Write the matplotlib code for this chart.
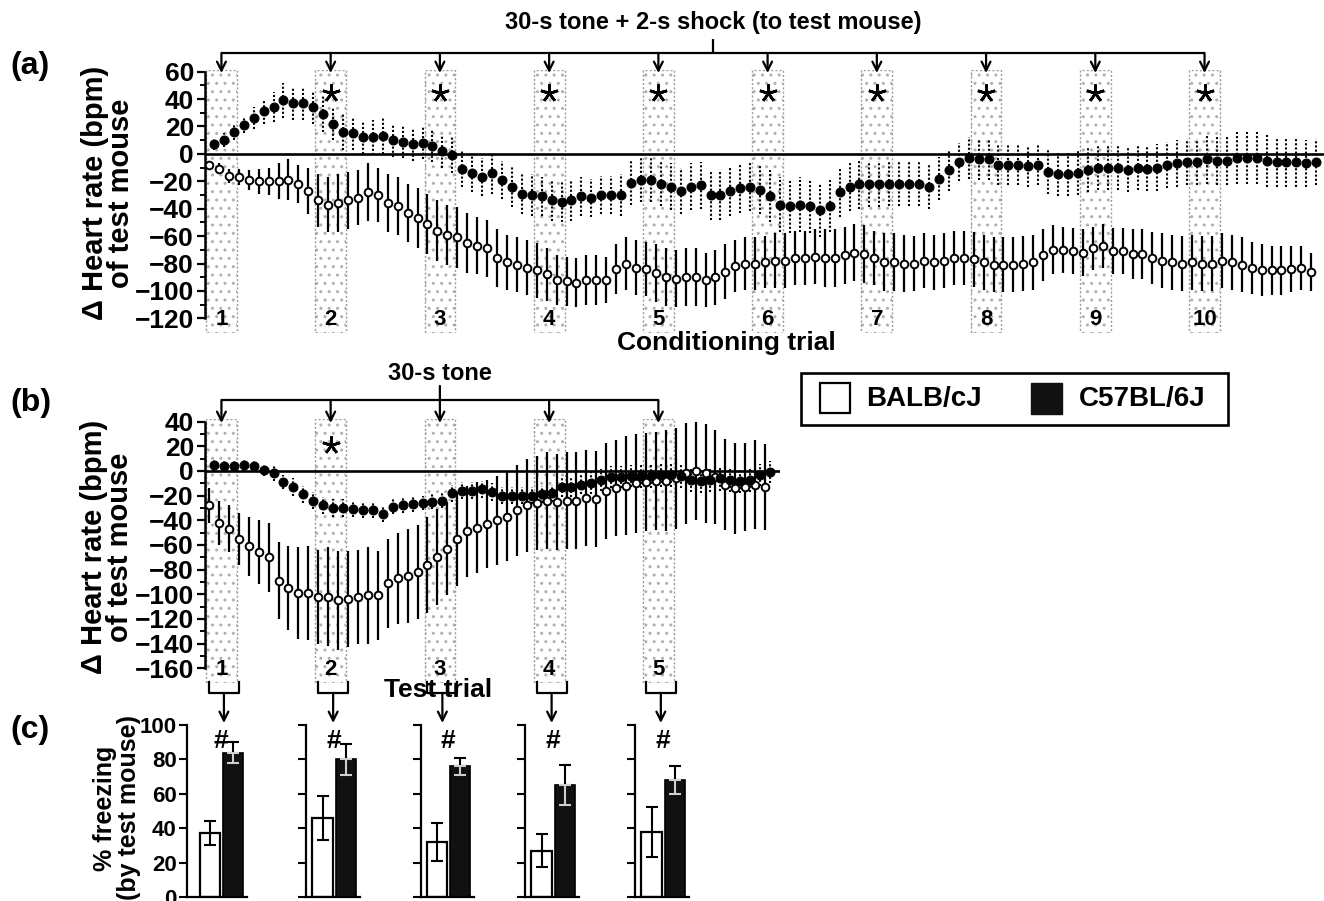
import numpy as np
import matplotlib
matplotlib.use("Agg")
import matplotlib.pyplot as plt
from matplotlib.patches import Rectangle, FancyArrowPatch
from matplotlib.lines import Line2D
import matplotlib.transforms as mtransforms

plt.rcParams['font.family'] = ['Liberation Sans', 'DejaVu Sans']
plt.rcParams['font.weight'] = 'bold'
plt.rcParams['hatch.linewidth'] = 1.0

# ---------------- data ----------------
cond_trials = [1, 2, 3, 4, 5, 6, 7, 8, 9, 10]
test_trials = [1, 2, 3, 4, 5]
bins_per_trial = 11

cond_c57 = [7, 10, 16, 21, 26, 31, 34, 39, 37, 37, 34, 29, 22, 16, 15, 12, 12, 13, 10, 9, 7, 8, 6, 2,
            -1, -11, -14, -17, -14, -19, -24, -29, -30, -31, -34, -35, -34, -31, -32, -30, -30, -30, -21, -19,
            -19, -22, -24, -27, -24, -23, -30, -30, -27, -25, -24, -26, -31, -37, -38, -37, -38, -41, -38, -28,
            -24, -22, -22, -22,
            -22, -22, -22, -22, -24, -18, -12, -6, -3, -4, -4, -8, -8, -8, -9, -8, -13, -15, -15, -14,
            -12, -10, -10, -10, -12, -10, -11, -10, -8, -7, -6, -6, -4, -5, -5, -3, -3, -3, -5, -6,
            -6, -6, -7, -6]
cond_c57_err = [4, 5, 6, 6, 8, 9, 11, 13, 12, 12, 12, 13, 12, 13, 12, 12, 13, 13, 12, 12, 12, 12, 12, 12,
                13, 13, 14, 14, 15, 14, 15, 15, 15, 14, 15, 15, 15, 14, 14, 14, 14, 15, 16, 16,
                16, 16, 17, 17, 17, 17, 18, 18, 18, 18, 18, 18, 19, 20, 20, 20, 20, 20, 19, 18,
                18, 18, 17, 17,
                16, 16, 16, 16, 16, 16, 15, 14, 15, 15, 15, 15, 15, 15, 15, 15, 16, 16, 16, 16,
                16, 16, 16, 16, 16, 16, 16, 17, 17, 17, 17, 17, 18, 18, 18, 19, 19, 19, 19, 18,
                18, 18, 17, 17]
cond_balb = [-8, -11, -16, -17, -19, -20, -20, -20, -19, -22, -27, -34, -37, -36, -34, -32, -28, -30, -36, -38,
             -43, -47, -51, -56,
             -59, -61, -65, -67, -69, -76, -79, -81, -83, -85, -88, -92, -93, -94, -92, -92, -92, -84, -80, -83,
             -84, -87, -90, -91, -90, -90, -92, -90, -86, -82, -80, -80, -79, -78, -78, -76, -76, -75, -76, -76,
             -74, -72, -73, -76,
             -79, -79, -80, -80, -78, -79, -78, -76, -76, -77, -79, -81, -81, -81, -80, -79, -74, -70, -70, -71,
             -72, -69, -67, -71, -71, -73, -73, -76, -78, -79, -80, -79, -80, -80, -78, -79, -81, -83, -85, -85,
             -85, -84, -83, -86]
cond_balb_err = [3, 4, 5, 6, 7, 9, 10, 13, 15, 14, 17, 19, 20, 21, 21, 20, 21, 20, 21, 21, 21, 22, 22, 22,
                 22, 22, 22, 21, 21, 21, 20, 20, 20, 20, 19, 18, 18, 18, 18, 18, 17, 18, 19, 20,
                 20, 21, 21, 21, 21, 21, 20, 20, 20, 19, 19, 19, 19, 20, 20, 20, 20, 20, 21, 21,
                 21, 21, 21, 20,
                 21, 21, 21, 20, 20, 20, 20, 20, 20, 20, 20, 20, 20, 20, 20, 20, 19, 18, 17, 17,
                 17, 16, 16, 17, 17, 18, 18, 19, 20, 20, 20, 20, 20, 20, 20, 20, 20, 19, 19, 18,
                 18, 17, 16, 14]

test_c57 = [5, 4, 4, 5, 4, 1, -2, -9, -13, -19, -24, -28, -30, -30, -31, -32, -32, -35, -29, -28,
            -27, -26, -25, -24, -18, -16, -16, -15, -17, -20, -20, -20, -20, -19, -18, -13, -13, -11, -10, -7,
            -5, -5, -4, -4, -4, -3, -3, -4, -7, -8, -7, -6, -7, -8, -7, -3, -1]
test_c57_err = [5, 5, 5, 5, 5, 5, 6, 6, 7, 7, 7, 7, 7, 7, 6, 6, 6, 6, 6, 6,
                6, 6, 6, 6, 7, 7, 7, 7, 7, 7, 7, 7, 7, 7, 7, 8, 8, 8, 9, 9,
                9, 9, 9, 10, 10, 10, 10, 10, 10, 10, 10, 10, 10, 10, 10, 9, 9]
test_balb = [-28, -42, -47, -55, -61, -66, -70, -89, -95, -99, -99, -102, -102, -105, -104, -102, -101, -101, -91, -87,
             -85, -82, -76, -70, -63, -55, -49, -46, -43, -40, -37, -32, -28, -26, -24, -25, -24, -24, -22, -23,
             -16, -14, -12, -10, -9, -8, -8, -6, -2, 0, -2, -5, -11, -14, -13, -11, -13]
test_balb_err = [14, 18, 19, 21, 24, 26, 28, 31, 34, 37, 38, 38, 40, 40, 39, 38, 39, 36, 36, 37,
                 38, 38, 39, 39, 38, 38, 37, 37, 36, 36, 36, 37, 38, 38, 39, 39, 39, 39, 39, 39,
                 39, 39, 40, 40, 40, 40, 41, 41, 41, 40, 40, 38, 37, 37, 36, 36, 35]

cond_sig_trials = [2, 3, 4, 5, 6, 7, 8, 9, 10]
test_sig_trials = [2]

freeze_balb = [37, 46, 32, 27, 38]
freeze_balb_err = [7, 13, 11, 9.5, 14.5]
freeze_c57 = [84, 80, 76, 65, 68]
freeze_c57_err = [6, 9, 5, 11.5, 8]

strain_names = ['BALB/cJ', 'C57BL/6J']

# ---------------- layout helpers ----------------
W, H = 1324, 901
def fx(p):
    return p / W
def fy(p):
    return 1 - p / H

fig = plt.figure(figsize=(W / 100, H / 100), dpi=100)

BAND_FACE = '#b0b0b0'
BAND_EDGE = '#9a9a9a'


def timecourse(ax, trials, c57, c57e, balb, balbe, ylo, yhi, ylim, xmax, sig, star_y, num_y):
    n = len(c57)
    ax.set_xlim(-0.655, xmax)
    ax.set_ylim(*ylim)
    for s in ['top', 'right', 'bottom']:
        ax.spines[s].set_visible(False)
    ax.spines['left'].set_bounds(ylo, yhi)
    ax.spines['left'].set_linewidth(1.8)
    ax.set_xticks([])
    ax.set_yticks(np.arange(ylo, yhi + 1, 20))
    ax.set_yticks(np.arange(ylo, yhi + 1, 10), minor=True)
    ax.tick_params(axis='y', which='major', length=6, width=1.6, labelsize=19, pad=2)
    ax.tick_params(axis='y', which='minor', length=3.5, width=1.4)
    for lab in ax.get_yticklabels():
        lab.set_fontweight('bold')
    ax.patch.set_visible(False)
    # stippled tone bands
    for k in trials:
        start = bins_per_trial * (k - 1)
        ax.add_patch(Rectangle((start - 0.55, ylim[0]), 3.1, ylim[1] - ylim[0], facecolor='none',
                               edgecolor=BAND_FACE, lw=0, hatch='..', zorder=0))
        ax.add_patch(Rectangle((start - 0.55, ylim[0]), 3.1, ylim[1] - ylim[0], fill=False,
                               edgecolor=BAND_EDGE, lw=1.0, ls=(0, (1.5, 1.5)), zorder=0.5))
        ax.text(start + 1, num_y, str(k), ha='center', va='baseline', fontsize=16, fontweight='bold',
                zorder=5)
    ax.axhline(0, color='black', lw=1.9, zorder=2)
    x = np.arange(n)
    ax.errorbar(x - 0.25, balb, yerr=balbe, fmt='o', ms=5.5, mfc='white', mec='black', mew=1.4,
                ecolor='black', elinewidth=1.6, capsize=0, zorder=3)
    ec = ax.errorbar(x + 0.25, c57, yerr=c57e, fmt='o', ms=6.4, mfc='black', mec='black', mew=0.8,
                     ecolor='black', elinewidth=1.5, capsize=0, zorder=4)
    ec[2][0].set_linestyle((0, (1.0, 1.0)))
    for k in sig:
        ax.plot(bins_per_trial * (k - 1) + 1, star_y, marker=(5, 2, 0), ms=13, mew=1.9,
                color='black', zorder=6)


# ---------------- panel (a) ----------------
ax_a = fig.add_axes([fx(205), fy(333.4), fx(1324) - fx(205), (333.4 - 70.3) / H])
timecourse(ax_a, cond_trials, cond_c57, cond_c57_err, cond_balb, cond_balb_err,
           -120, 60, (-131, 61), 112.03, cond_sig_trials, 44.5, -125)

# ---------------- panel (b) ----------------
ax_b = fig.add_axes([fx(205), fy(683.0), fx(780) - fx(205), (683.0 - 419.2) / H])
timecourse(ax_b, test_trials, test_c57, test_c57_err, test_balb, test_balb_err,
           -160, 40, (-172, 42), 57.25, test_sig_trials, 21, -165.5)

# ---------------- arrows / brackets ----------------
def hline(trans, x0, x1, ypx, lw=1.6):
    fig.add_artist(Line2D([x0, x1], [fy(ypx), fy(ypx)], transform=trans, color='black', lw=lw,
                          solid_capstyle='butt'))

def vline(trans, x, y0px, y1px, lw=1.6):
    fig.add_artist(Line2D([x, x], [fy(y0px), fy(y1px)], transform=trans, color='black', lw=lw,
                          solid_capstyle='butt'))

def arrow(trans, x, y0px, y1px):
    fig.add_artist(FancyArrowPatch((x, fy(y0px)), (x, fy(y1px)), transform=trans, arrowstyle='->',
                                   mutation_scale=16, lw=1.6, color='black', shrinkA=0, shrinkB=0))

ta = mtransforms.blended_transform_factory(ax_a.transData, fig.transFigure)
centers_a = [bins_per_trial * (k - 1) + 1 for k in cond_trials]
mid_a = (centers_a[0] + centers_a[-1]) / 2
hline(ta, centers_a[0], centers_a[-1], 53)
vline(ta, mid_a, 53, 39)
for c in centers_a:
    arrow(ta, c, 53, 73)
fig.text(mid_a, fy(22), '30-s tone + 2-s shock (to test mouse)', transform=ta, ha='center', va='center',
         fontsize=17, fontweight='bold')

tb = mtransforms.blended_transform_factory(ax_b.transData, fig.transFigure)
centers_b = [bins_per_trial * (k - 1) + 1 for k in test_trials]
mid_b = (centers_b[0] + centers_b[-1]) / 2
hline(tb, centers_b[0], centers_b[-1], 400)
for c in centers_b:
    arrow(tb, c, 386 if c == mid_b else 400, 423)
fig.text(mid_b, fy(374), '30-s tone', transform=tb, ha='center', va='center', fontsize=17,
         fontweight='bold')

# brackets from test-trial bands down to freezing panels
for k in test_trials:
    s = bins_per_trial * (k - 1)
    fig.add_artist(Line2D([s - 0.25, s - 0.25, s + 2.75, s + 2.75],
                          [fy(682), fy(693), fy(693), fy(682)], transform=tb, color='black', lw=1.6))
    arrow(tb, s + 1.25, 693, 723)

# ---------------- axis labels ----------------
fig.text(fx(726), fy(343), 'Conditioning trial', ha='center', va='center', fontsize=19, fontweight='bold')
fig.text(fx(438), fy(690), 'Test trial', ha='center', va='center', fontsize=19, fontweight='bold')
fig.text(fx(108), fy(193), '\u0394 Heart rate (bpm)\nof test mouse', rotation=90, ha='center', va='center',
         fontsize=21, fontweight='bold', linespacing=0.95, multialignment='center')
fig.text(fx(107), fy(547), '\u0394 Heart rate (bpm)\nof test mouse', rotation=90, ha='center', va='center',
         fontsize=21, fontweight='bold', linespacing=0.95, multialignment='center')
fig.text(fx(117), fy(808), '% freezing\n(by test mouse)', rotation=90, ha='center', va='center',
         fontsize=18, fontweight='bold', linespacing=0.95, multialignment='center')

for lab, ypx in [('(a)', 66), ('(b)', 403), ('(c)', 730)]:
    fig.text(fx(10), fy(ypx), lab, ha='left', va='center', fontsize=23, fontweight='bold')

# ---------------- panel (c) ----------------
spine_px = [187, 306, 421, 525, 635]
white_center_px = [210, 322.5, 437, 541.5, 651.5]
unit_px = 23.1
xr = 1.62
for i in range(len(test_trials)):
    left = spine_px[i]
    xl = -(white_center_px[i] - left) / unit_px
    width_px = (xr - xl) * unit_px
    ax = fig.add_axes([fx(left), fy(897), width_px / W, (897 - 725) / H])
    ax.set_xlim(xl, xr)
    ax.set_ylim(0, 100)
    for s in ['top', 'right']:
        ax.spines[s].set_visible(False)
    for s in ['left', 'bottom']:
        ax.spines[s].set_linewidth(1.6)
    ax.set_xticks([])
    ax.set_yticks([0, 20, 40, 60, 80, 100])
    ax.tick_params(axis='y', length=6, width=1.5, labelsize=16, pad=1.5)
    if i > 0:
        ax.set_yticklabels([])
    else:
        for lab in ax.get_yticklabels():
            lab.set_fontweight('bold')
    ax.patch.set_visible(False)
    ax.bar(0, freeze_balb[i], width=0.87, color='white', edgecolor='black', lw=1.6, zorder=2)
    ax.bar(1, freeze_c57[i], width=0.87, color='#111111', edgecolor='black', lw=1.2, zorder=2)
    ax.errorbar(0, freeze_balb[i], yerr=freeze_balb_err[i], fmt='none', ecolor='black', elinewidth=1.5,
                capsize=4, capthick=1.5, zorder=3)
    ax.errorbar(1, freeze_c57[i], yerr=[[0], [freeze_c57_err[i]]], fmt='none', ecolor='black',
                elinewidth=1.5, capsize=4, capthick=1.5, zorder=3, clip_on=False)
    ax.errorbar(1, freeze_c57[i], yerr=[[freeze_c57_err[i]], [0]], fmt='none', ecolor='#cfcfcf',
                elinewidth=1.5, capsize=4, capthick=1.5, zorder=3)
    ax.text(0.47, 86.5, '#', ha='center', va='baseline', fontsize=19, fontweight='bold', clip_on=False)

# ---------------- legend ----------------
fig.add_artist(Rectangle((fx(801), fy(425)), (1228 - 801) / W, (425 - 373) / H, transform=fig.transFigure,
                         fill=False, edgecolor='black', lw=1.9))
fig.add_artist(Rectangle((fx(820), fy(413)), 30 / W, 30 / H, transform=fig.transFigure,
                         facecolor='white', edgecolor='black', lw=1.6))
fig.add_artist(Rectangle((fx(1031), fy(414)), 31 / W, 31 / H, transform=fig.transFigure,
                         facecolor='#111111', edgecolor='#111111', lw=1.0))
fig.text(fx(866), fy(399), strain_names[0], ha='left', va='center', fontsize=20, fontweight='bold')
fig.text(fx(1079), fy(399), strain_names[1], ha='left', va='center', fontsize=20, fontweight='bold')

fig.savefig('out.png', dpi=100)
